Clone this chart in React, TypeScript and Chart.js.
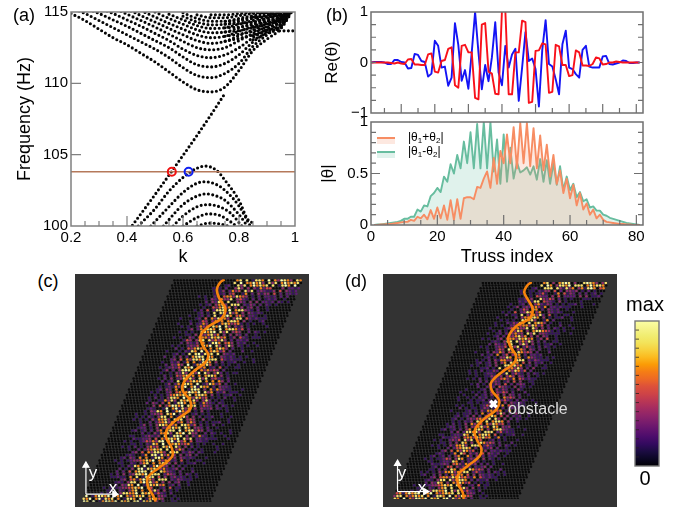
import React, { useEffect, useRef } from "react";
import { Chart, registerables } from "chart.js";

Chart.register(...registerables);
Chart.defaults.font.family = "'Liberation Sans', Arial, sans-serif";
Chart.defaults.color = "#000";

// ---------- (a) dispersion ----------
const kGrid = [0.2, 0.25, 0.3, 0.35, 0.4, 0.45, 0.5, 0.55, 0.6, 0.65, 0.7, 0.75, 0.8, 0.85, 0.9, 0.95, 1.0];
const _ = null;
const upperBands: (number | null)[][] = [
  [114.9, 114.4, 113.8, 113.2, 112.7, 112.1, 111.5, 110.8, 110.1, 109.55, 109.4, 109.75, 110.9, 112.3, 113.1, 113.85, 115.4],
  [115.3, 114.9, 114.4, 113.9, 113.4, 112.9, 112.4, 111.8, 111.1, 110.55, 110.4, 110.7, 111.4, 112.6, 113.4, 114.2, 115.5],
  [_, 115.3, 114.9, 114.45, 114, 113.5, 113, 112.5, 111.85, 111.3, 111.15, 111.4, 112.0, 112.9, 113.6, 114.4, 115.5],
  [_, _, 115.3, 114.9, 114.45, 114, 113.5, 113, 112.4, 111.95, 111.8, 112, 112.5, 113.2, 113.8, 114.5, 115.5],
  [_, _, _, 115.3, 114.85, 114.4, 113.95, 113.45, 112.95, 112.5, 112.35, 112.5, 113, 113.5, 114, 114.6, 115.5],
  [_, _, _, _, 115.2, 114.75, 114.3, 113.85, 113.4, 113, 112.8, 112.95, 113.35, 113.75, 114.2, 114.7, 115.5],
  [_, _, _, _, _, 115.1, 114.65, 114.2, 113.8, 113.4, 113.2, 113.3, 113.65, 114, 114.4, 114.8, 115.5],
  [_, _, _, _, _, _, 115, 114.55, 114.15, 113.75, 113.55, 113.6, 113.9, 114.2, 114.55, 114.9, 115.5],
  [_, _, _, _, _, _, _, 114.85, 114.45, 114.05, 113.85, 113.9, 114.15, 114.4, 114.7, 115, _],
  [_, _, _, _, _, _, _, _, 114.7, 114.3, 114.1, 114.15, 114.35, 114.55, 114.85, 115.1, _],
  [_, _, _, _, _, _, _, _, 114.95, 114.55, 114.35, 114.35, 114.55, 114.75, 115, _, _],
  [_, _, _, _, _, _, _, _, _, 114.8, 114.6, 114.6, 114.75, 114.9, 115.1, _, _],
  [_, _, _, _, _, _, _, _, _, _, 114.8, 114.8, 114.9, 115, _, _, _],
  // the tight right-hand wedge, where the branches pile up
  [_, _, _, _, _, _, _, _, _, _, _, 112.95, 113.15, 113.4, 113.75, 114.1, 115.5],
  [_, _, _, _, _, _, _, _, _, _, _, 113.3, 113.45, 113.65, 113.95, 114.3, 115.5],
  [_, _, _, _, _, _, _, _, _, _, _, 113.6, 113.7, 113.9, 114.15, 114.55, 115.5],
  [_, _, _, _, _, _, _, _, _, _, _, 113.9, 113.95, 114.1, 114.35, 114.65, 115.5],
  [_, _, _, _, _, _, _, _, _, _, _, 114.15, 114.2, 114.3, 114.55, 114.85, 115.5],
  [_, _, _, _, _, _, _, _, _, _, _, 114.35, 114.45, 114.65, 114.75, 115, _],
  [_, _, _, _, _, _, _, _, _, _, _, _, _, 113.35, 113.65, 114.0, 115.5],
  [_, _, _, _, _, _, _, _, _, _, _, _, _, 113.05, 113.5, 113.95, 115.45],
  [_, _, _, _, _, _, _, _, _, _, _, _, _, 113.95, 114.25, 114.4, 115.5],
  [_, _, _, _, _, _, _, _, _, _, _, _, _, 114.65, 114.65, 114.95, 115.5],
  [_, _, _, _, _, _, _, _, _, _, _, _, _, 114.95, 114.95, 114.5, 115.5],
  [_, _, _, _, _, _, _, _, _, _, _, _, _, _, 115.1, 114.75, 115.5],
];
const diagK = [0.41, 0.5, 0.56, 0.6, 0.65, 0.7, 0.75];
const diagF = [99.8, 102.2, 103.84, 104.95, 106.35, 107.8, 109.3];
const flatK = [0.945, 1.0];
const flatF = [113.68, 113.68];
const L1K = [0.44, 0.5, 0.55, 0.6, 0.65, 0.68, 0.72, 0.75, 0.8, 0.83, 0.85];
const L1F = [100, 101.2, 102.45, 103.4, 104.05, 104.2, 103.9, 103.2, 101.8, 100.5, 100.2];
const L2K = [0.485, 0.55, 0.6, 0.65, 0.68, 0.72, 0.75, 0.8, 0.84];
const L2F = [100, 101.35, 102.35, 103, 103.1, 102.9, 102.5, 101.4, 100];
const L3K = [0.53, 0.6, 0.65, 0.68, 0.72, 0.75, 0.8, 0.83];
const L3F = [100, 101.5, 102.1, 102.25, 102.1, 101.8, 100.8, 100];
const L4K = [0.565, 0.6, 0.65, 0.69, 0.73, 0.77, 0.81];
const L4F = [100, 100.7, 101.35, 101.5, 101.35, 100.9, 100];
const L5K = [0.6, 0.65, 0.69, 0.73, 0.77, 0.79];
const L5F = [100, 100.6, 100.85, 100.75, 100.3, 100];
const L6K = [0.65, 0.69, 0.73, 0.76];
const L6F = [100, 100.2, 100.15, 100];
const operatingF = 103.8;
const redK = 0.56;
const blueK = 0.62;

// ---------- (b) ----------
const trussIndex = Array.from({ length: 81 }, (_v, i) => i + 1);
const reBlue = [
  0, 0.01, 0.01, 0.01, 0, -0.03, -0.03, 0.05, 0.05, 0.01, 0, -0.12, -0.11, 0.17, 0.15, 0.03, 0.01, -0.28, -0.22, 0.43,
  0.33, -0.1, -0.08, -0.46, -0.3, 0.78, 0.35, -0.36, -0.15, -0.52, 0.2, 1.0, 0.2, -0.53, -0.05, -0.37, 0.1, 0.8, -0.2, -0.45,
  0.33, -0.1, 0.16, 0.27, -0.76, -0.1, 0.6, 0.03, 0.08, -0.13, -0.87, 0.25, 0.84, -0.03, -0.08, -0.33, -0.63, 0.36, 0.63, -0.1,
  -0.13, -0.23, -0.3, 0.25, 0.33, -0.08, -0.1, -0.1, -0.1, 0.12, 0.13, -0.03, -0.04, -0.02, 0, 0.04, 0.03, -0.01, -0.01, 0, 0,
];
const reRed = [
  0, 0, 0, 0, 0, 0, -0.01, -0.02, 0, -0.02, -0.03, 0.06, 0.07, -0.04, -0.04, -0.05, -0.05, 0.16, 0.18, -0.18,
  -0.2, 0.03, 0.05, 0.27, 0.3, -0.45, -0.5, 0.33, 0.35, 0.2, 0.2, -0.7, -0.73, 0.75, 0.78, -0.18, -0.22, -0.62, -0.63, 1.03,
  1.03, -0.63, -0.63, 0.2, 0.2, 0.83, 0.8, -0.8, -0.78, 0.23, 0.24, 0.38, 0.36, -0.6, -0.58, 0.35, 0.32, -0.05, -0.05, -0.27,
  -0.25, 0.24, 0.2, -0.06, -0.06, -0.07, -0.03, 0.1, 0.08, -0.04, -0.03, 0, 0, 0.02, 0.01, 0, 0, 0, 0, 0, 0,
];
const absMinus = [
  0, 0.005, 0.005, 0.01, 0.015, 0.02, 0.025, 0.03, 0.04, 0.06, 0.06, 0.08, 0.08, 0.15, 0.13, 0.19, 0.18, 0.28, 0.31, 0.36,
  0.32, 0.47, 0.42, 0.59, 0.5, 0.68, 0.55, 0.81, 0.6, 0.9, 0.55, 0.98, 0.55, 1.0, 0.55, 1.0, 0.52, 0.83, 0.4, 0.88,
  0.42, 0.75, 0.45, 0.61, 0.51, 0.53, 0.56, 0.49, 0.57, 0.44, 0.64, 0.42, 0.63, 0.4, 0.6, 0.39, 0.57, 0.34, 0.47, 0.34,
  0.4, 0.27, 0.32, 0.23, 0.25, 0.17, 0.18, 0.14, 0.14, 0.1, 0.09, 0.07, 0.06, 0.05, 0.04, 0.03, 0.02, 0.015, 0.01, 0.005, 0,
];
const absPlus = [
  0, 0, 0.005, 0.005, 0.01, 0.01, 0.015, 0.02, 0.025, 0.03, 0.03, 0.05, 0.04, 0.08, 0.065, 0.1, 0.055, 0.145, 0.06, 0.17,
  0.065, 0.19, 0.05, 0.24, 0.05, 0.25, 0.06, 0.26, 0.27, 0.27, 0.25, 0.37, 0.36, 0.45, 0.52, 0.36, 0.65, 0.4, 0.72, 0.6,
  0.88, 0.6, 0.95, 0.55, 0.99, 0.6, 0.99, 0.57, 0.94, 0.55, 0.87, 0.53, 0.78, 0.47, 0.68, 0.4, 0.53, 0.31, 0.45, 0.26,
  0.39, 0.19, 0.31, 0.15, 0.21, 0.1, 0.15, 0.065, 0.1, 0.05, 0.03, 0.025, 0.02, 0.015, 0.01, 0.01, 0.005, 0.005, 0, 0, 0,
];

// ---------- (c), (d) field intensity, read row by row in the sheared lattice ----------
const fieldC = [
  "00000012989898989", "00000124768656543", "00001247875543321", "00001258876432110", "00001358987431100",
  "00012368987532100", "00012478987632100", "00012578876532100", "00012469987421100", "00013589986321100",
  "00024689975321100", "00024699865321000", "00013588987531000", "00012478998631000", "00012479998642100",
  "00013689887532100", "00024699876432100", "00134799765321100", "00124688776432100", "00123578987532110",
  "00123468998632110", "00123579987532110", "00124689876431100", "00124799865321100", "00135899754321000",
  "00135899764321000", "00124799876421000", "00124799765310000", "99999989975210000",
];
const fieldD = [
  "00000012978987987", "00000113546545432", "00000135755432211", "00001246764321100", "00001257875321100",
  "00001247886421100", "00011357887521100", "00012478876521000", "00012468765321000", "00012467765321000",
  "00012367876421000", "00012357876421000", "00012346765321000", "00011345654210000", "00011234554210000",
  "00011234565321000", "00012235665321000", "00012346776421000", "00013467887521000", "00123578887421000",
  "00123578876321000", "00124688765321000", "00124687654321000", "00123576554210000", "00123576654310000",
  "00124687765321000", "00124788765320000", "00124798765310000", "79899989875210000",
];
const pathCX = [151, 146, 143, 146, 152, 148, 135, 126, 128, 134, 131, 118, 109, 107, 115, 115, 101, 91, 90, 96, 96, 83, 71, 71, 76, 79];
const pathCY = [0, 4, 11, 21, 31, 41, 49, 59, 69, 79, 87, 97, 107, 116, 127, 136, 147, 157, 166, 177, 186, 197, 207, 217, 226, 233];
const pathDX = [151, 146, 143, 147, 152, 149, 135, 126, 128, 134, 132, 120, 108, 108, 116, 113, 100, 90, 92, 97, 95, 83, 72, 72, 77, 78];
const pathDY = [0, 4, 11, 19, 29, 39, 47, 59, 69, 79, 87, 96, 107, 116, 127, 137, 147, 159, 169, 179, 187, 197, 207, 217, 226, 233];
const obstacleX = [110];
const obstacleY = [131];

// ---------- colours ----------
const infernoStops = [
  "#000004", "#0b0724", "#1b0c41", "#320a5e", "#4a0c6b", "#61136e", "#781c6d", "#8f2469", "#a52c60", "#bb3754", "#cf4446",
  "#dd513a", "#ed6925", "#f57d15", "#fb9b06", "#fbba1f", "#f7d13d", "#f3e35a", "#f1ed71", "#f6f48c", "#fcffa4",
];
const dotPalette: Record<string, string> = {
  K: "#0a0a0a", P: "#36125f", V: "#5e1c74", M: "#8d2a68", R: "#cf4446", O: "#f0801a", Y: "#f7e06a", W: "#fcffb0",
};
const levelMix = ["KKKKKKKKK", "KKPKKKKPK", "KPKVKPKKP", "PVKPVKPVK", "VMKVPKMVK", "MVKRMKVPK", "OMKVRKMKP", "YOKMROKMY", "YOKYMKOYM", "WYKOWKPYO"];

// ---------- helpers ----------
type TickSet = { major?: number[]; minor?: number[]; majorLen?: number; minorLen?: number };
function framePlugin(cfg: { x?: TickSet; y?: TickSet; color?: string; lineWidth?: number }) {
  return {
    id: "frameTicks",
    afterDatasetsDraw(chart: any) {
      const { ctx, chartArea: a, scales } = chart;
      ctx.save();
      ctx.strokeStyle = cfg.color || "#808080";
      ctx.lineWidth = 1.2;
      const xs = scales.x;
      const ys = scales.y;
      const drawX = (v: number, len: number) => {
        const p = xs.getPixelForValue(v);
        ctx.beginPath();
        ctx.moveTo(p, a.bottom);
        ctx.lineTo(p, a.bottom - len);
        ctx.stroke();
      };
      const drawY = (v: number, len: number) => {
        const p = ys.getPixelForValue(v);
        ctx.beginPath();
        ctx.moveTo(a.left, p);
        ctx.lineTo(a.left + len, p);
        ctx.moveTo(a.right, p);
        ctx.lineTo(a.right - len, p);
        ctx.stroke();
      };
      (cfg.x?.minor || []).forEach((v) => drawX(v, cfg.x!.minorLen || 5));
      (cfg.x?.major || []).forEach((v) => drawX(v, cfg.x!.majorLen || 9));
      (cfg.y?.minor || []).forEach((v) => drawY(v, cfg.y!.minorLen || 5));
      (cfg.y?.major || []).forEach((v) => drawY(v, cfg.y!.majorLen || 9));
      ctx.lineWidth = cfg.lineWidth || 1.5;
      ctx.strokeRect(a.left, a.top, a.right - a.left, a.bottom - a.top);
      ctx.restore();
    },
  };
}
const pts = (xs: number[], ys: (number | null)[]) =>
  xs.map((x, i) => ({ x, y: ys[i] })).filter((p) => p.y !== null);

const axisGrid = { display: false, drawTicks: false, drawBorder: false };
const noBorder = { display: false };
const tickFont = { size: 15 };
const titleFont = { size: 18 };

// ---------- charts ----------
function dotted(data: any[]) {
  return {
    type: "line",
    data,
    borderColor: "#050505",
    borderWidth: 3.1,
    borderDash: [0, 4.4],
    borderCapStyle: "round",
    pointRadius: 0,
    cubicInterpolationMode: "monotone",
    order: 5,
  };
}

function configA() {
  const bands = upperBands.map((b) => dotted(pts(kGrid, b)));
  const extras = [[diagK, diagF], [flatK, flatF], [L1K, L1F], [L2K, L2F], [L3K, L3F], [L4K, L4F], [L5K, L5F], [L6K, L6F]].map(([a, b]) => dotted(pts(a, b)));
  return {
    type: "scatter",
    data: {
      datasets: [
        { type: "scatter", data: [{ x: redK, y: operatingF }], pointRadius: 4, pointBorderWidth: 2, pointBorderColor: "#f01010", pointBackgroundColor: "rgba(0,0,0,0)", order: 0 },
        { type: "scatter", data: [{ x: blueK, y: operatingF }], pointRadius: 4, pointBorderWidth: 2, pointBorderColor: "#1020f0", pointBackgroundColor: "rgba(0,0,0,0)", order: 0 },
        { type: "line", data: [{ x: 0.2, y: operatingF }, { x: 1, y: operatingF }], borderColor: "#b5795a", borderWidth: 1.5, pointRadius: 0, order: 1 },
        ...bands,
        ...extras,
      ],
    },
    options: {
      responsive: false,
      animation: false,
      plugins: { legend: { display: false }, tooltip: { enabled: false } },
      layout: { padding: { top: 10, right: 50, left: 0, bottom: 0 } },
      scales: {
        x: {
          type: "linear", min: 0.2, max: 1,
          grid: axisGrid, border: noBorder,
          afterFit: (s: any) => { s.height = 42; },
          afterBuildTicks: (s: any) => { s.ticks = [0.2, 0.4, 0.6, 0.8, 1].map((value) => ({ value })); },
          ticks: { font: tickFont, padding: 3, maxRotation: 0, callback: (v: any) => String(+(+v).toFixed(1)) },
          title: { display: true, text: "k", font: titleFont, padding: 0 },
        },
        y: {
          type: "linear", min: 100, max: 115,
          grid: axisGrid, border: noBorder,
          afterFit: (s: any) => { s.width = 71; },
          afterBuildTicks: (s: any) => { s.ticks = [100, 105, 110, 115].map((value) => ({ value })); },
          ticks: { font: tickFont, padding: 3, callback: (v: any) => String(v) },
          title: { display: true, text: "Frequency (Hz)", font: titleFont, padding: { top: 14, bottom: 0 } },
        },
      },
    },
    plugins: [framePlugin({
      x: { major: [0.4, 0.6, 0.8], minor: [0.25, 0.3, 0.35, 0.45, 0.5, 0.55, 0.65, 0.7, 0.75, 0.85, 0.9, 0.95], majorLen: 10, minorLen: 5 },
      y: { major: [105, 110], majorLen: 10 },
    })],
  };
}

function configBTop() {
  const line = (values: number[], color: string, order: number) => ({
    type: "line", data: pts(trussIndex, values), borderColor: color, borderWidth: 1.9, borderJoinStyle: "round", pointRadius: 0, tension: 0, order,
  });
  return {
    type: "scatter",
    data: { datasets: [line(reRed, "#f8111a", 0), line(reBlue, "#1414f5", 1)] },
    options: {
      responsive: false,
      animation: false,
      plugins: { legend: { display: false }, tooltip: { enabled: false } },
      layout: { padding: { top: 10, right: 22, left: 0, bottom: 0 } },
      scales: {
        x: { type: "linear", min: 1, max: 82, grid: axisGrid, border: noBorder, ticks: { display: false }, afterFit: (s: any) => { s.height = 12; } },
        y: {
          type: "linear", min: -1, max: 1,
          grid: axisGrid, border: noBorder,
          afterFit: (s: any) => { s.width = 56; },
          afterBuildTicks: (s: any) => { s.ticks = [-1, 0, 1].map((value) => ({ value })); },
          ticks: { font: tickFont, padding: 3, callback: (v: any) => (v < 0 ? "\u2212" + Math.abs(v) : String(v)) },
          title: { display: true, text: "Re(\u03b8)", font: { size: 17 }, padding: { top: 7, bottom: 0 } },
        },
      },
    },
    plugins: [framePlugin({
      x: { major: [10, 20, 30, 40, 50, 60, 70, 80], minor: [5, 15, 25, 35, 45, 55, 65, 75], majorLen: 9, minorLen: 5 },
      y: { minor: [-0.75, -0.5, -0.25, 0, 0.25, 0.5, 0.75], minorLen: 5 },
      color: "#6f6f6f",
    })],
  };
}

function configBBottom() {
  return {
    type: "scatter",
    data: {
      datasets: [
        { type: "line", data: pts(trussIndex, absPlus), borderColor: "#f78d63", backgroundColor: "rgba(245,139,99,0.2)", borderWidth: 1.9, borderJoinStyle: "round", pointRadius: 0, fill: "origin", order: 0 },
        { type: "line", data: pts(trussIndex, absMinus), borderColor: "#67bd9f", backgroundColor: "rgba(100,190,160,0.2)", borderWidth: 1.9, borderJoinStyle: "round", pointRadius: 0, fill: "origin", order: 1 },
      ],
    },
    options: {
      responsive: false,
      animation: false,
      plugins: { legend: { display: false }, tooltip: { enabled: false }, filler: { propagate: false } },
      layout: { padding: { top: 12, right: 22, left: 0, bottom: 0 } },
      scales: {
        x: {
          type: "linear", min: 0, max: 82,
          grid: axisGrid, border: noBorder,
          afterFit: (s: any) => { s.height = 43; },
          afterBuildTicks: (s: any) => { s.ticks = [0, 20, 40, 60, 80].map((value) => ({ value })); },
          ticks: { font: tickFont, padding: 3, callback: (v: any) => String(v) },
          title: { display: true, text: "Truss index", font: titleFont, padding: 0 },
        },
        y: {
          type: "linear", min: 0, max: 1,
          grid: axisGrid, border: noBorder,
          afterFit: (s: any) => { s.width = 56; },
          afterBuildTicks: (s: any) => { s.ticks = [0, 0.5, 1].map((value) => ({ value })); },
          ticks: { font: tickFont, padding: 3, callback: (v: any) => String(v) },
          title: { display: true, text: "|\u03b8|", font: { size: 17 }, padding: { top: 3, bottom: 0 } },
        },
      },
    },
    plugins: [framePlugin({
      x: { major: [20, 40, 60, 80], minor: [5, 10, 15, 25, 30, 35, 45, 50, 55, 65, 70, 75], majorLen: 10, minorLen: 5 },
      y: { major: [0.5], minor: [0.1, 0.2, 0.3, 0.4, 0.6, 0.7, 0.8, 0.9], majorLen: 9, minorLen: 5 },
      color: "#6f6f6f",
    })],
  };
}

function configField(field: string[], pathX: number[], pathY: number[], axisOriginX: number, withObstacle: boolean) {
  const H = 233;
  const W = 136;
  const rowStep = H / field.length;
  const cellW = W / field[0].length;
  const left0 = 98;
  const shear = 0.415;
  const dx = 3.3;
  const dy = 2.86;
  const cells: any[] = [];
  const colors: string[] = [];
  for (let j = 0; j * dy + 1 < H; j++) {
    const y = j * dy + 1;
    const r = Math.min(field.length - 1, Math.floor(y / rowStep));
    const x0 = left0 - shear * y;
    for (let i = 0; i * dx + (j % 2) * dx * 0.5 + 1 < W; i++) {
      const u = i * dx + (j % 2) * dx * 0.5 + 1;
      const c = Math.min(field[0].length - 1, Math.floor(u / cellW));
      const mix = levelMix[Number(field[r][c])];
      cells.push({ x: x0 + u, y });
      // a fixed ordered dither: every 3x3 block of sites uses each mix entry once
      const idx = (i % 3) + 3 * (j % 3) + 4 * (Math.floor(i / 3) + 2 * Math.floor(j / 3));
      colors.push(dotPalette[mix[idx % 9]]);
    }
  }
  const datasets: any[] = [
    { type: "line", data: pts(pathX, pathY), borderColor: "#f7830d", borderWidth: 2.6, pointRadius: 0, tension: 0.4, order: 1 },
    { type: "scatter", data: cells, pointStyle: "circle", pointRadius: 1.25, pointBorderWidth: 0, pointBackgroundColor: colors, order: 3 },
    { type: "line", data: [{ x: axisOriginX, y: 225 }, { x: axisOriginX, y: 195 }], borderColor: "#fff", borderWidth: 1.2, pointRadius: [0, 3.5], pointStyle: "triangle", pointBackgroundColor: "#fff", pointBorderColor: "#fff", order: 0 },
    { type: "line", data: [{ x: axisOriginX, y: 225 }, { x: axisOriginX + 30, y: 225 }], borderColor: "#fff", borderWidth: 1.2, pointRadius: [0, 3.5], pointStyle: "triangle", pointRotation: 90, pointBackgroundColor: "#fff", pointBorderColor: "#fff", order: 0 },
  ];
  if (withObstacle) {
    datasets.push({ type: "scatter", data: pts(obstacleX, obstacleY), pointStyle: "crossRot", pointRadius: 4.5, pointBorderWidth: 3.5, pointBorderColor: "#fff", order: 0 });
  }
  return {
    type: "scatter",
    data: { datasets },
    options: {
      responsive: false,
      animation: false,
      plugins: { legend: { display: false }, tooltip: { enabled: false } },
      layout: { padding: 0 },
      scales: {
        x: { type: "linear", min: 0, max: 234, display: false },
        y: { type: "linear", min: 0, max: 233, reverse: true, display: false },
      },
    },
    plugins: [],
  };
}

function configColorbar() {
  return {
    type: "bar",
    data: {
      labels: [""],
      datasets: [{
        data: [[0, 1]],
        barPercentage: 1,
        categoryPercentage: 1,
        backgroundColor: (ctx: any) => {
          const { chartArea, ctx: c } = ctx.chart;
          if (!chartArea) return "#000";
          const g = c.createLinearGradient(0, chartArea.bottom, 0, chartArea.top);
          infernoStops.forEach((col, i) => g.addColorStop(i / (infernoStops.length - 1), col));
          return g;
        },
      }],
    },
    options: {
      responsive: false,
      animation: false,
      plugins: { legend: { display: false }, tooltip: { enabled: false } },
      layout: { padding: 1 },
      scales: {
        x: { display: false },
        y: { type: "linear", min: 0, max: 1, display: false },
      },
    },
    plugins: [{
      id: "cbTicks",
      afterDatasetsDraw(chart: any) {
        const { ctx, chartArea: a, scales } = chart;
        ctx.save();
        ctx.strokeStyle = "rgba(40,30,30,0.75)";
        ctx.lineWidth = 1;
        for (let i = 1; i < 16; i++) {
          const p = scales.y.getPixelForValue(i / 16);
          ctx.beginPath();
          ctx.moveTo(a.left, p);
          ctx.lineTo(a.left + 4, p);
          ctx.stroke();
        }
        ctx.strokeStyle = "#777";
        ctx.lineWidth = 1.4;
        ctx.strokeRect(a.left, a.top, a.right - a.left, a.bottom - a.top);
        ctx.restore();
      },
    }],
  };
}

// ---------- components ----------
function Panel({ box, make, bg }: { box: [number, number, number, number]; make: () => any; bg?: string }) {
  const ref = useRef<HTMLCanvasElement | null>(null);
  useEffect(() => {
    const chart = new Chart(ref.current as HTMLCanvasElement, make());
    return () => chart.destroy();
  }, []);
  return (
    <canvas
      ref={ref}
      width={box[2]}
      height={box[3]}
      style={{ position: "absolute", left: box[0], top: box[1], width: box[2], height: box[3], background: bg || "transparent", display: "block" }}
    />
  );
}

function Label({ x, y, size, color, children, align }: any) {
  return (
    <div
      style={{
        position: "absolute", left: x, top: y, fontSize: size, color: color || "#000", lineHeight: 1, whiteSpace: "nowrap",
        fontFamily: "'Liberation Sans', Arial, sans-serif",
        transform: align === "left" ? "translateY(-50%)" : "translate(-50%,-50%)",
      }}
    >
      {children}
    </div>
  );
}
const Sub = ({ children }: any) => <span style={{ fontSize: 8, verticalAlign: -2 }}>{children}</span>;

function Swatch({ y, line, fill }: { y: number; line: string; fill: string }) {
  return (
    <>
      <div style={{ position: "absolute", left: 377, top: y, width: 18, height: 6, background: fill }} />
      <div style={{ position: "absolute", left: 377, top: y - 1, width: 18, height: 2, background: line }} />
    </>
  );
}

export default function App() {
  return (
    <div style={{ position: "fixed", left: 0, top: 0, width: 689, height: 508, overflow: "hidden", background: "#fff" }}>
      <Panel box={[0, 0, 345, 268]} make={configA} />
      <Panel box={[315, 0, 350, 125]} make={configBTop} />
      <Panel box={[315, 110, 350, 158]} make={configBBottom} />
      <Panel box={[75, 274, 234, 233]} bg="#333333" make={() => configField(fieldC, pathCX, pathCY, 6, false)} />
      <Panel box={[383, 274, 234, 233]} bg="#333333" make={() => configField(fieldD, pathDX, pathDY, 7, true)} />
      <Panel box={[634, 320, 26, 147]} make={configColorbar} />

      <Label x={24} y={15} size={18}>(a)</Label>
      <Label x={337} y={15} size={18}>(b)</Label>
      <Label x={48} y={281} size={18}>(c)</Label>
      <Label x={356} y={281} size={18}>(d)</Label>

      <Swatch y={138} line="#f78d63" fill="rgba(245,139,99,0.2)" />
      <Swatch y={152} line="#67bd9f" fill="rgba(100,190,160,0.2)" />
      <Label x={408} y={138} size={12} align="left">|θ<Sub>1</Sub>+θ<Sub>2</Sub>|</Label>
      <Label x={408} y={152} size={12} align="left">|θ<Sub>1</Sub>-θ<Sub>2</Sub>|</Label>

      <Label x={93} y={472} size={17} color="#fff">y</Label>
      <Label x={113} y={487} size={17} color="#fff">x</Label>
      <Label x={402} y={472} size={17} color="#fff">y</Label>
      <Label x={422} y={487} size={17} color="#fff">x</Label>
      <Label x={508} y={409} size={16} color="#ddd" align="left">obstacle</Label>

      <Label x={645} y={304} size={20}>max</Label>
      <Label x={645} y={478} size={20}>0</Label>
    </div>
  );
}
